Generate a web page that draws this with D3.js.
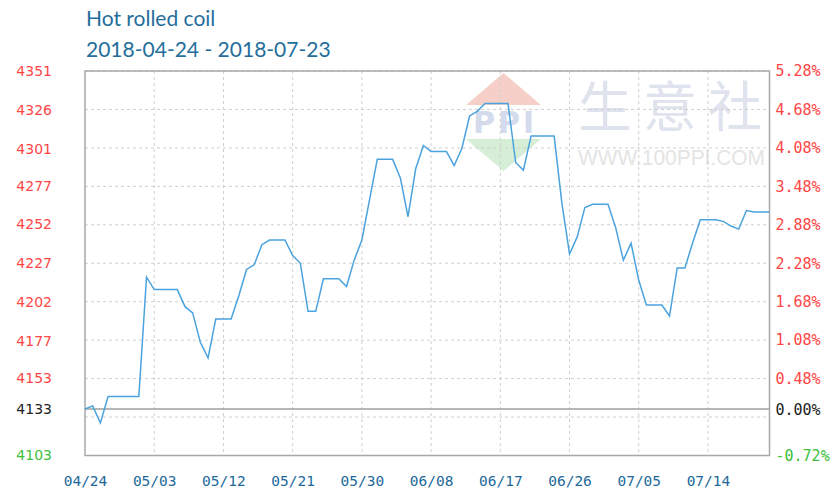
<!DOCTYPE html>
<html>
<head>
<meta charset="utf-8">
<script src="https://cdn.jsdelivr.net/npm/d3@7/dist/d3.min.js"></script>
<style>
  body { margin: 0; background: #fff; }
</style>
</head>
<body>
<svg id="canvas" width="831" height="491"></svg>
<script>
//Chart data: one price per day, starting 2018-04-24
var startDay = "2018-04-24";
var endDay = "2018-07-22";
var prices = [
  4133, 4135, 4124, 4141, 4141, 4141, 4141, 4141, 4218, 4210,
  4210, 4210, 4210, 4199, 4195, 4176, 4166, 4191, 4191, 4191,
  4206, 4223, 4226, 4239, 4242, 4242, 4242, 4232, 4227, 4196,
  4196, 4217, 4217, 4217, 4212, 4229, 4242, 4268, 4294, 4294,
  4294, 4282, 4257, 4288, 4303, 4299, 4299, 4299, 4290, 4301,
  4322, 4325, 4330, 4330, 4330, 4330, 4292, 4287, 4309, 4309,
  4309, 4309, 4266, 4233, 4244, 4263, 4265, 4265, 4265, 4250,
  4229, 4240, 4216, 4200, 4200, 4200, 4193, 4224, 4224, 4240,
  4255, 4255, 4255, 4254, 4251, 4249, 4261, 4260, 4260, 4260
];
var basePrice = 4133;

//Tick labels
var xTickLabels = ["04/24", "05/03", "05/12", "05/21", "05/30", "06/08", "06/17", "06/26", "07/05", "07/14"];
var priceTicks = [4351, 4326, 4301, 4277, 4252, 4227, 4202, 4177, 4153, 4133, 4103];
var pctTicks = [5.28, 4.68, 4.08, 3.48, 2.88, 2.28, 1.68, 1.08, 0.48, 0.00, -0.72];

var titleText = "Hot rolled coil";
var subtitleText = "2018-04-24 - 2018-07-23";

var svg = d3.select("#canvas"),
  width = +svg.attr("width"),
  height = +svg.attr("height");

//plot frame (note: "top" is taken by window.top, so prefixed names)
var plotLeft = 85, plotRight = 769.5, plotTop = 71, plotBottom = 455.5;

var parseDay = d3.timeParse("%Y-%m-%d");
var parseTick = d3.timeParse("%Y/%m/%d");
var t0 = parseDay(startDay);

var series = prices.map(function(v, i) {
  return { date: d3.timeDay.offset(t0, i), value: v };
});
var xTicks = xTickLabels.map(function(s) { return parseTick("2018/" + s); });

var x = d3.scaleTime().domain([t0, parseDay(endDay)]).range([plotLeft, plotRight]);
var y = d3.scaleLinear().domain([4103, 4351]).range([plotBottom, plotTop]);
var yPct = d3.scaleLinear().domain([-0.72, 5.28]).range([plotBottom, plotTop]);

//Watermark
var wm = svg.append("g").attr("class", "watermark");
wm.append("path")
  .attr("d", "M466,105 L541,105 L503.5,73 Z")
  .attr("fill", "#f6d0c8");
wm.append("path")
  .attr("d", "M466,139 L541,139 L503.5,171 Z")
  .attr("fill", "#d6eed6");
wm.append("text")
  .attr("x", 505).attr("y", 133)
  .attr("text-anchor", "middle")
  .attr("font-family", "DejaVu Sans")
  .attr("font-weight", "bold")
  .attr("font-size", 30)
  .attr("letter-spacing", 3)
  .attr("fill", "#d3dbec")
  .text("PPI");
wm.append("text")
  .attr("x", 578).attr("y", 127)
  .attr("font-family", "Noto Sans CJK SC")
  .attr("font-size", 54)
  .attr("letter-spacing", 11)
  .attr("fill", "#dfe3ee")
  .text("生意社");
wm.append("text")
  .attr("x", 578).attr("y", 165)
  .attr("font-family", "Liberation Sans")
  .attr("font-size", 22)
  .attr("textLength", 187)
  .attr("lengthAdjust", "spacingAndGlyphs")
  .attr("fill", "#e4e4e4")
  .text("WWW.100PPI.COM");

//Grid lines
var grid = svg.append("g").attr("class", "grid")
  .attr("stroke", "#cfcfcf")
  .attr("stroke-dasharray", "3,3")
  .attr("stroke-width", 1);

grid.selectAll("line.h")
  .data(d3.range(11).map(function(i) { return -0.72 + 0.6 * i; }))
  .enter().append("line")
  .attr("class", "h")
  .attr("x1", plotLeft).attr("x2", plotRight)
  .attr("y1", function(d) { return yPct(d); })
  .attr("y2", function(d) { return yPct(d); });

grid.selectAll("line.v")
  .data(xTicks.slice(1))
  .enter().append("line")
  .attr("class", "v")
  .attr("y1", plotTop).attr("y2", plotBottom)
  .attr("x1", function(d) { return x(d); })
  .attr("x2", function(d) { return x(d); });

//Base line
svg.append("line")
  .attr("x1", plotLeft).attr("x2", plotRight)
  .attr("y1", y(basePrice)).attr("y2", y(basePrice))
  .attr("stroke", "#a0a0a0")
  .attr("stroke-width", 1.3);

//Frame
svg.append("rect")
  .attr("x", plotLeft).attr("y", plotTop)
  .attr("width", plotRight - plotLeft).attr("height", plotBottom - plotTop)
  .attr("fill", "none")
  .attr("stroke", "#a8a8a8")
  .attr("stroke-width", 1.5);

//Price line
var line = d3.line()
  .x(function(d) { return x(d.date); })
  .y(function(d) { return y(d.value); });

svg.append("path")
  .datum(series)
  .attr("fill", "none")
  .attr("stroke", "#4aa3de")
  .attr("stroke-width", 1.5)
  .attr("d", line);

//Left axis (prices)
var leftAxis = svg.append("g")
  .attr("transform", "translate(" + plotLeft + ",0)")
  .call(d3.axisLeft(y).tickValues(priceTicks).tickSize(0).tickPadding(33).tickFormat(d3.format("d")));
leftAxis.select(".domain").remove();
leftAxis.selectAll("text")
  .attr("font-family", "DejaVu Sans")
  .attr("font-size", 14)
  .attr("fill", function(d) {
    if (d == basePrice) return "#222";
    return d < basePrice ? "#3cc03c" : "#ff4646";
  });

//Right axis (percent change)
var rightAxis = svg.append("g")
  .attr("transform", "translate(" + plotRight + ",0)")
  .call(d3.axisRight(yPct).tickValues(pctTicks).tickSize(0).tickPadding(6)
    .tickFormat(function(d) { return d.toFixed(2) + "%"; }));
rightAxis.select(".domain").remove();
rightAxis.selectAll("text")
  .attr("font-family", "DejaVu Sans Mono")
  .attr("font-size", 15)
  .attr("fill", function(d) {
    if (d == 0) return "#222";
    return d < 0 ? "#3cc03c" : "#ff4646";
  });

//Bottom axis (dates)
var bottomAxis = svg.append("g")
  .attr("transform", "translate(0," + plotBottom + ")")
  .call(d3.axisBottom(x).tickValues(xTicks).tickSize(0).tickPadding(20)
    .tickFormat(d3.timeFormat("%m/%d")));
bottomAxis.select(".domain").remove();
bottomAxis.selectAll("text")
  .attr("font-family", "DejaVu Sans Mono")
  .attr("font-size", 14.5)
  .attr("fill", "#22699a");

//Titles
svg.append("text")
  .attr("x", 86).attr("y", 26)
  .attr("font-family", "Lato")
  .attr("font-size", 21)
  .attr("fill", "#256e9c")
  .text(titleText);
svg.append("text")
  .attr("x", 86).attr("y", 56.5)
  .attr("font-family", "Lato")
  .attr("font-size", 21)
  .attr("fill", "#256e9c")
  .text(subtitleText);
</script>
</body>
</html>
